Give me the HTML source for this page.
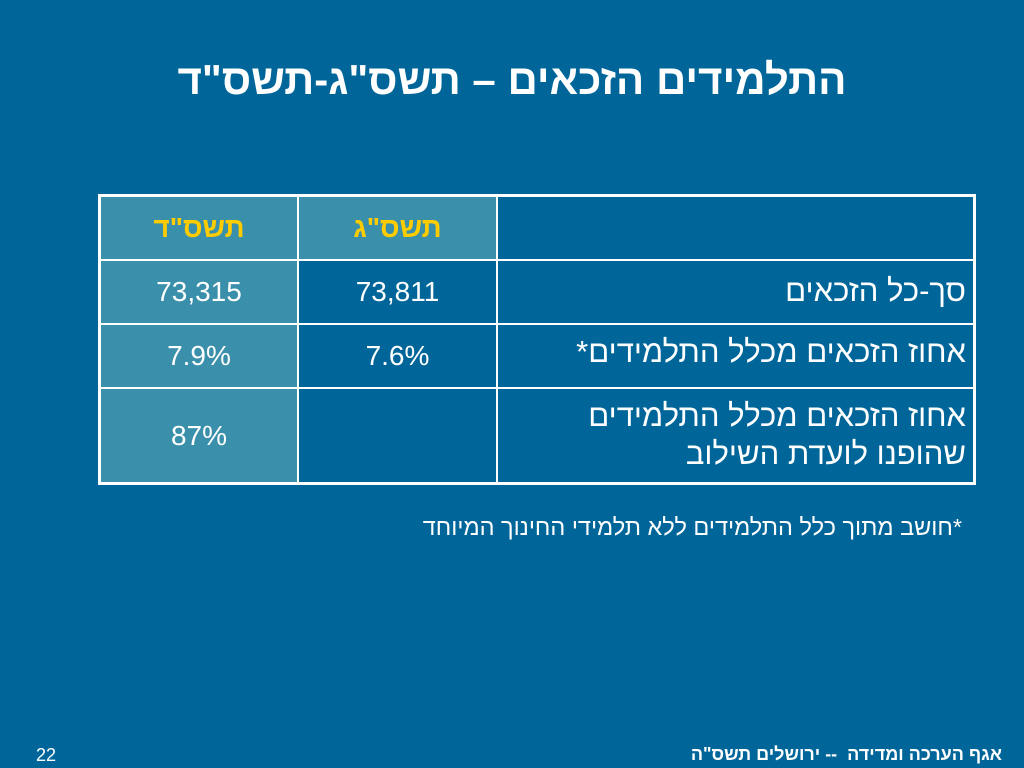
<!DOCTYPE html>
<html><head><meta charset="utf-8"><style>
body{margin:0;width:1024px;height:768px;background:#006699;position:relative;overflow:hidden;font-family:"Liberation Sans","Noto Sans CJK SC",sans-serif;color:#fff}
.a{position:absolute}
.c{position:absolute;display:flex;align-items:center;justify-content:center;font-size:28px;box-sizing:border-box}
.l{background:#3a8fab}
.r{justify-content:flex-start;direction:rtl;padding-right:8px;font-size:31px;line-height:38px;text-align:right}
.h{color:#ffcc00;font-weight:bold;font-size:28px}
.vl{position:absolute;background:#fff;width:2px}
.hl{position:absolute;background:#fff;height:2px}
</style></head><body>
<div class="a" style="left:0;width:1024px;top:56px;text-align:center;font-size:42px;font-weight:bold;direction:rtl">התלמידים הזכאים – תשס"ג-תשס"ד</div>
<div class="c l h" style="left:100px;top:196px;width:198px;height:64px">תשס"ד</div>
<div class="c l h" style="left:298px;top:196px;width:199px;height:64px">תשס"ג</div>
<div class="c l" style="left:100px;top:260px;width:198px;height:224px"></div>
<div class="c" style="left:100px;top:260px;width:198px;height:64px">73,315</div>
<div class="c" style="left:298px;top:260px;width:199px;height:64px">73,811</div>
<div class="c r" style="left:497px;top:260px;width:477px;height:64px;align-items:flex-start;padding-top:12px">סך-כל הזכאים</div>
<div class="c" style="left:100px;top:324px;width:198px;height:64px">7.9%</div>
<div class="c" style="left:298px;top:324px;width:199px;height:64px">7.6%</div>
<div class="c r" style="left:497px;top:324px;width:477px;height:64px;align-items:flex-start;padding-top:9px">אחוז הזכאים מכלל התלמידים*</div>
<div class="c" style="left:100px;top:388px;width:198px;height:96px">87%</div>
<div class="c r" style="left:497px;top:388px;width:477px;height:96px;align-items:flex-start;padding-top:9px">אחוז הזכאים מכלל התלמידים<br>שהופנו לועדת השילוב</div>
<div class="hl" style="left:99px;top:194px;width:877px;height:3px"></div>
<div class="hl" style="left:99px;top:259px;width:877px"></div>
<div class="hl" style="left:99px;top:323px;width:877px"></div>
<div class="hl" style="left:99px;top:387px;width:877px"></div>
<div class="hl" style="left:99px;top:482px;width:877px;height:3px"></div>
<div class="vl" style="left:98px;top:194px;height:291px;width:3px"></div>
<div class="vl" style="left:297px;top:194px;height:291px"></div>
<div class="vl" style="left:496px;top:194px;height:291px"></div>
<div class="vl" style="left:973px;top:194px;height:291px;width:3px"></div>
<div class="a" style="right:62px;top:514px;font-size:23.5px;direction:rtl">*חושב מתוך כלל התלמידים ללא תלמידי החינוך המיוחד</div>
<div class="a" style="left:36px;top:745px;font-size:18px">22</div>
<div class="a" style="right:22px;top:744px;font-size:18px;font-weight:bold;direction:rtl">אגף הערכה ומדידה&nbsp; -- ירושלים תשס"ה</div>
</body></html>
